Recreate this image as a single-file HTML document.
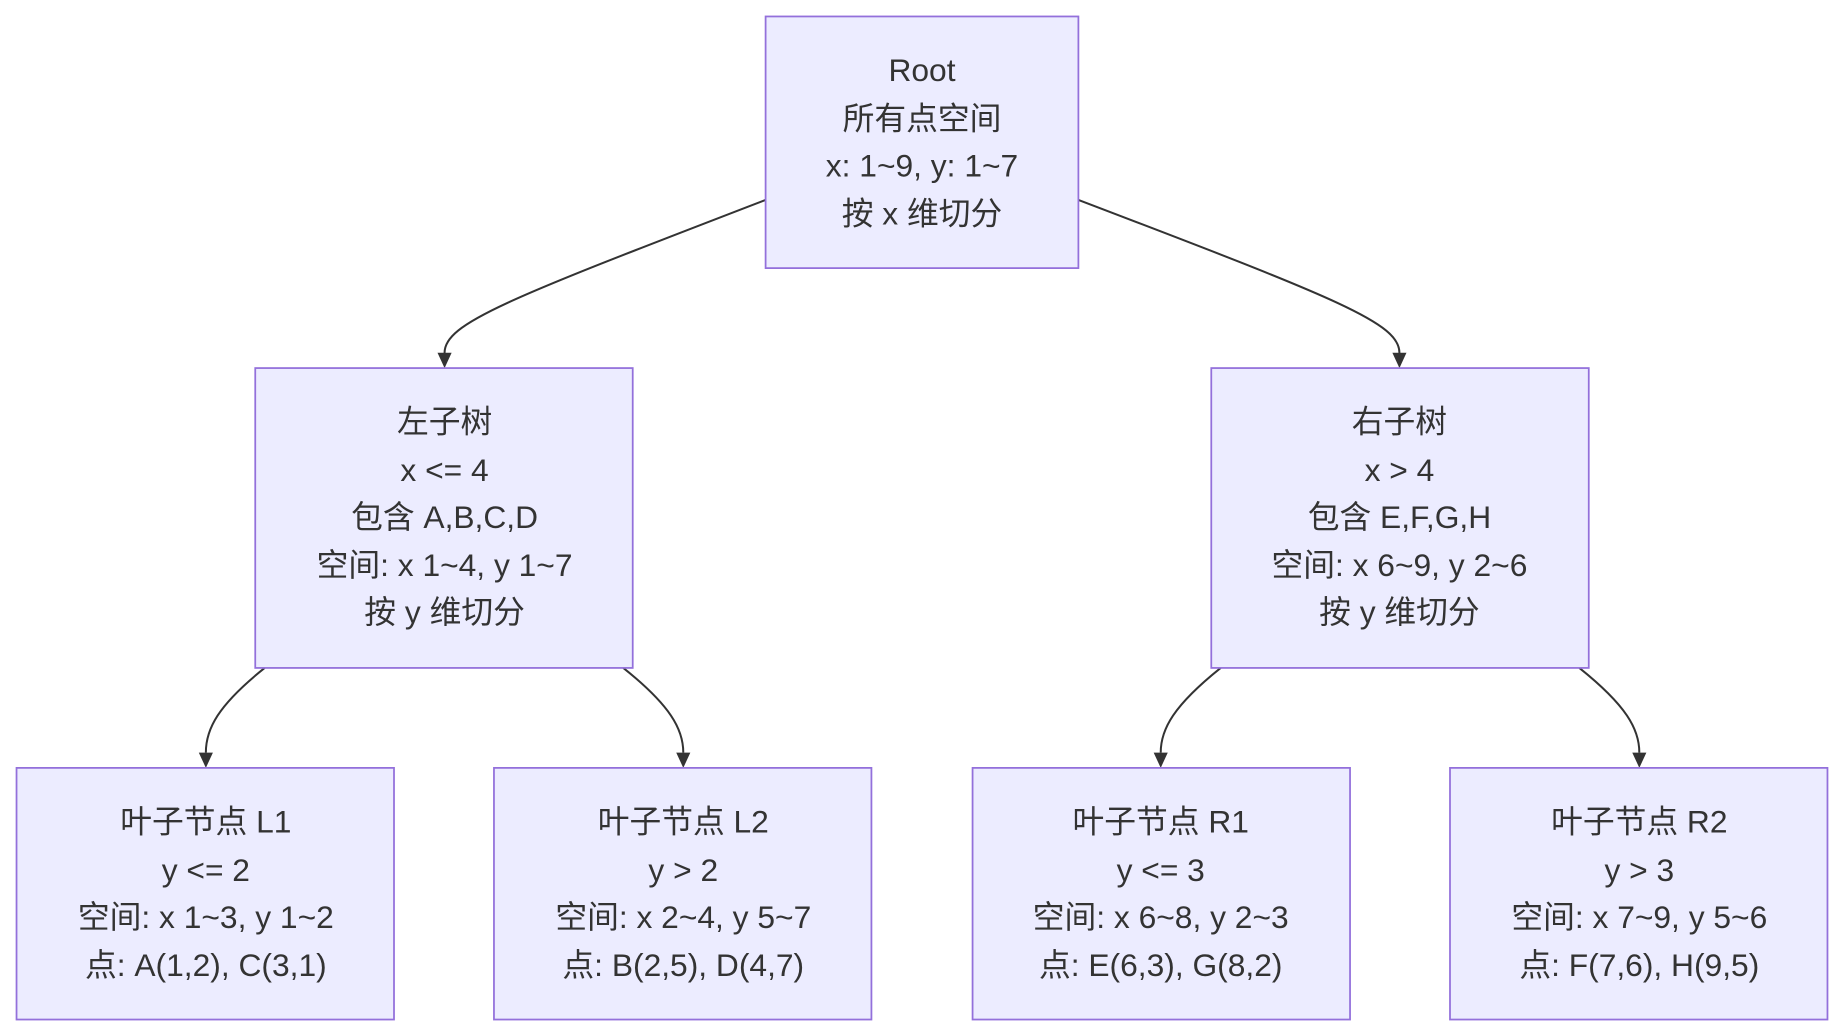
<!DOCTYPE html>
<html><head><meta charset="utf-8"><style>
html,body{margin:0;padding:0;background:#fff;}
svg{display:block}
text{font-family:"Liberation Sans","Noto Sans CJK SC",sans-serif;font-size:27px;fill:#333;text-anchor:middle;}
rect{fill:#ECECFF;stroke:#9370DB;stroke-width:1.5}
path.e{fill:none;stroke:#333;stroke-width:1.7}
</style></head><body>
<svg width="1844" height="1036" viewBox="0 0 1568 881" xmlns="http://www.w3.org/2000/svg">
<g>
<path class="e" d="M651,170 C430,255 378,275 378,300 L378,302" />
<path d="M372,300 L384,300 L378,313 z" fill="#333"/>
<path class="e" d="M917,170 C1140,255 1190,275 1190,300 L1190,302" />
<path d="M1184,300 L1196,300 L1190,313 z" fill="#333"/>
<path class="e" d="M225,568 C185,600 175,620 175,640" />
<path d="M169,640 L181,640 L175,653 z" fill="#333"/>
<path class="e" d="M530,568 C570,600 581,620 581,640" />
<path d="M575,640 L587,640 L581,653 z" fill="#333"/>
<path class="e" d="M1038,568 C998,600 987,620 987,640" />
<path d="M981,640 L993,640 L987,653 z" fill="#333"/>
<path class="e" d="M1343,568 C1383,600 1394,620 1394,640" />
<path d="M1388,640 L1400,640 L1394,653 z" fill="#333"/>
</g>
<rect x="651" y="14" width="266" height="214"/>
<text x="784" y="69">Root</text><text x="784" y="110">所有点空间</text><text x="784" y="150">x: 1~9, y: 1~7</text><text x="784" y="191">按 x 维切分</text>
<rect x="217" y="313" width="321" height="255"/>
<text x="378" y="368">左子树</text><text x="378" y="409">x &lt;= 4</text><text x="378" y="449">包含 A,B,C,D</text><text x="378" y="490">空间: x 1~4, y 1~7</text><text x="378" y="530">按 y 维切分</text>
<rect x="1030" y="313" width="321" height="255"/>
<text x="1190" y="368">右子树</text><text x="1190" y="409">x &gt; 4</text><text x="1190" y="449">包含 E,F,G,H</text><text x="1190" y="490">空间: x 6~9, y 2~6</text><text x="1190" y="530">按 y 维切分</text>
<rect x="14" y="653" width="321" height="214"/>
<text x="175" y="708">叶子节点 L1</text><text x="175" y="749">y &lt;= 2</text><text x="175" y="789">空间: x 1~3, y 1~2</text><text x="175" y="830">点: A(1,2), C(3,1)</text>
<rect x="420" y="653" width="321" height="214"/>
<text x="581" y="708">叶子节点 L2</text><text x="581" y="749">y &gt; 2</text><text x="581" y="789">空间: x 2~4, y 5~7</text><text x="581" y="830">点: B(2,5), D(4,7)</text>
<rect x="827" y="653" width="321" height="214"/>
<text x="987" y="708">叶子节点 R1</text><text x="987" y="749">y &lt;= 3</text><text x="987" y="789">空间: x 6~8, y 2~3</text><text x="987" y="830">点: E(6,3), G(8,2)</text>
<rect x="1233" y="653" width="321" height="214"/>
<text x="1394" y="708">叶子节点 R2</text><text x="1394" y="749">y &gt; 3</text><text x="1394" y="789">空间: x 7~9, y 5~6</text><text x="1394" y="830">点: F(7,6), H(9,5)</text>
</svg>
</body></html>
